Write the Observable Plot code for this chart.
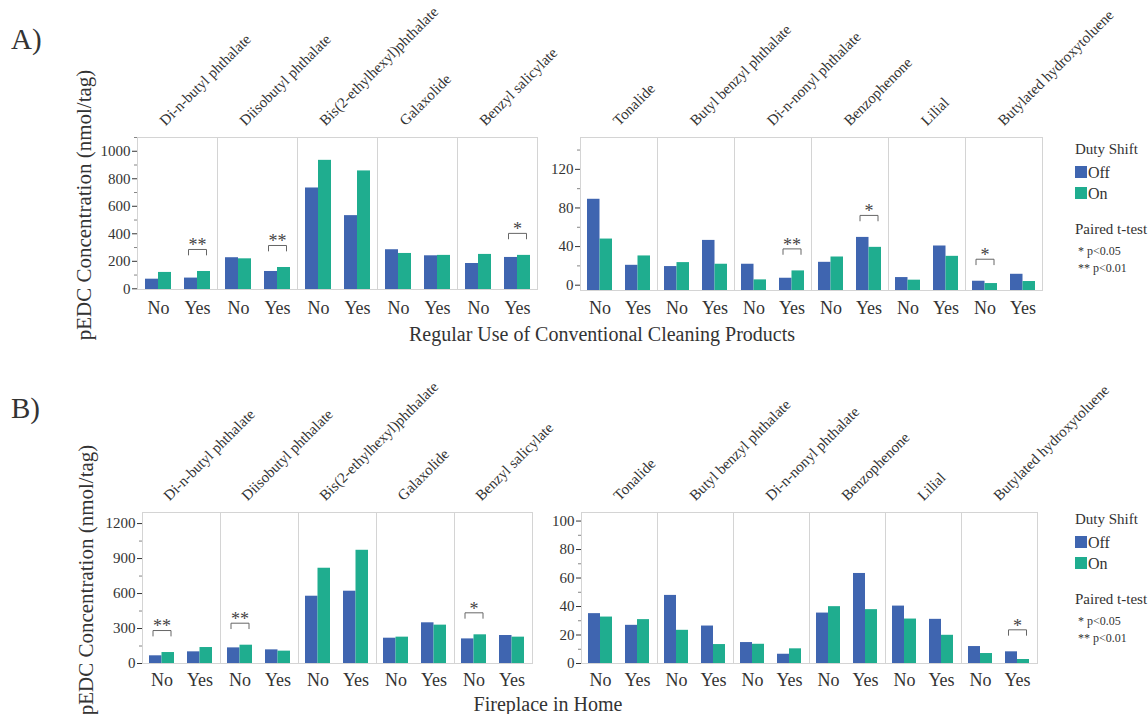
<!DOCTYPE html>
<html><head><meta charset="utf-8">
<script src="https://cdn.jsdelivr.net/npm/d3@7"></script>
<script src="https://cdn.jsdelivr.net/npm/@observablehq/plot@0.6"></script>
<style>
body{margin:0;background:#fff;}
#fig{position:relative;width:1148px;height:714px;overflow:hidden;font-family:"Liberation Serif","Times New Roman",serif;color:#333;background:#fff;}
.t{position:absolute;white-space:nowrap;line-height:1;}
.p{position:absolute;}
</style></head><body><div id="fig"></div>
<script>
// ---------- data ----------
const chemsLeft = ["Di-n-butyl phthalate","Diisobutyl phthalate","Bis(2-ethylhexyl)phthalate","Galaxolide","Benzyl salicylate"];
const chemsRight = ["Tonalide","Butyl benzyl phthalate","Di-n-nonyl phthalate","Benzophenone","Lilial","Butylated hydroxytoluene"];
const groups = ["No","Yes"];
const shifts = ["Off","On"];
const shiftColors = ["#3f65b0","#1fad8f"];

// A) Regular use of conventional cleaning products (per chemical: No, Yes)
const cleanLeftOff  = [70,78, 226,126, 733,532, 284,240, 184,228];
const cleanLeftOn   = [119,126, 218,155, 934,857, 257,243, 250,243];
const cleanRightOff = [89,20.6, 19.3,46.4, 21.7,7.2, 23.7,49.5, 7.9,40.6, 4.1,11.3];
const cleanRightOn  = [47.8,30.3, 23.4,21.7, 5.5,14.8, 29.2,39.2, 5.2,29.9, 1.7,3.8];
const cleanSigLeft  = [["Di-n-butyl phthalate","Yes","**"],["Diisobutyl phthalate","Yes","**"],["Benzyl salicylate","Yes","*"]];
const cleanSigRight = [["Di-n-nonyl phthalate","Yes","**"],["Benzophenone","Yes","*"],["Butylated hydroxytoluene","No","*"]];

// B) Fireplace in home (per chemical: No, Yes)
const fireLeftOff  = [66,100, 134,117, 577,620, 217,349, 211,240];
const fireLeftOn   = [94,137, 157,106, 817,971, 226,329, 246,226];
const fireRightOff = [35.0,26.8, 47.8,26.3, 14.7,6.5, 35.4,63.2, 40.3,31.0, 11.9,8.2];
const fireRightOn  = [32.6,30.8, 23.3,13.3, 13.5,10.3, 39.9,37.8, 31.2,19.8, 7.0,2.8];
const fireSigLeft  = [["Di-n-butyl phthalate","No","**"],["Diisobutyl phthalate","No","**"],["Benzyl salicylate","No","*"]];
const fireSigRight = [["Butylated hydroxytoluene","Yes","*"]];

// axis ticks
const ticksALeft = [0,200,400,600,800,1000];
const minorALeft = [100,300,500,700,900,1100];
const ticksARight = [0,40,80,120];
const minorARight = [20,60,100,140];
const ticksBLeft = [0,300,600,900,1200];
const minorBLeft = [150,450,750,1050];
const ticksBRight = [0,20,40,60,80,100];
const minorBRight = [10,30,50,70,90];

// ---------- drawing ----------
const fig = document.getElementById("fig");
const FONT = "'Liberation Serif','Times New Roman',serif";

// bracket symbol for significance marks
const bracket = {
  draw(ctx, size) {
    const r = Math.sqrt(size / Math.PI), h = r * 0.65;
    ctx.moveTo(-r, h); ctx.lineTo(-r, 0); ctx.lineTo(r, 0); ctx.lineTo(r, h);
  }
};

function panel(o) {
  const rows = o.chems.flatMap((c, i) => groups.flatMap((g, j) => shifts.map((s, k) => ({
    chem: c, group: g, shift: s, value: (k ? o.on : o.off)[i * 2 + j]
  }))));
  const sigRows = o.sig.map(([chem, group, label]) => {
    const i = o.chems.indexOf(chem), j = groups.indexOf(group);
    return {chem, group, label, top: Math.max(o.off[i * 2 + j], o.on[i * 2 + j])};
  });
  const common = {
    width: o.width, height: o.height,
    marginLeft: o.ml, marginRight: o.mr, marginTop: o.mt, marginBottom: o.mb,
    fx: {domain: o.chems, padding: 0, axis: null, label: null},
    x: {domain: groups, paddingInner: 0.34, paddingOuter: 0.18, label: null},
    y: {domain: o.yDomain, label: null},
    color: {domain: shifts, range: shiftColors},
    style: `background:transparent;overflow:visible;font-family:${FONT};color:#333;`
  };
  const probe = Plot.plot({...common, marks: [Plot.barY(rows, {fx: "chem", x: "group", y: "value"})]});
  const bw = probe.scale("x").bandwidth;
  const svg = Plot.plot({
    ...common,
    marks: [
      Plot.frame({stroke: "#d4d4d4"}),
      Plot.barY(rows.filter(d => d.shift === "Off"), {fx: "chem", x: "group", y1: o.yDomain[0], y2: "value", fill: "shift", insetRight: bw / 2}),
      Plot.barY(rows.filter(d => d.shift === "On"), {fx: "chem", x: "group", y1: o.yDomain[0], y2: "value", fill: "shift", insetLeft: bw / 2}),
      Plot.axisY(o.yTicks, {tickSize: 5, tickPadding: 2, fontSize: 15, label: null, tickFormat: d => String(d)}),
      Plot.axisY(o.yMinor, {tickSize: 3, tickFormat: () => "", label: null, strokeOpacity: 0.6}),
      Plot.axisX({tickSize: 0, tickPadding: o.xPad, fontSize: 18, label: null}),
      Plot.text(o.chems, {fx: d => d, text: d => d, frameAnchor: "top", rotate: -45, textAnchor: "start", lineAnchor: "bottom", dx: o.labelDx, dy: -11, fontSize: 15}),
      Plot.dot(sigRows, {fx: "chem", x: "group", y: "top", symbol: bracket, r: 9, dy: -22, stroke: "#666", fill: "none", strokeWidth: 1}),
      Plot.text(sigRows, {fx: "chem", x: "group", y: "top", text: "label", dy: -26, fontSize: 18, fill: "#444"})
    ]
  });
  const div = document.createElement("div");
  div.className = "p";
  div.style.left = o.left + "px"; div.style.top = o.top + "px";
  div.style.width = o.width + "px"; div.style.height = o.height + "px";
  div.appendChild(svg);
  fig.appendChild(div);
}

function text(str, x, baseline, size, extra = {}) {
  const d = document.createElement("div");
  d.className = "t";
  d.textContent = str;
  d.style.fontSize = size + "px";
  d.style.left = x + "px";
  d.style.top = (baseline - 0.8375 * size) + "px";
  Object.assign(d.style, extra);
  fig.appendChild(d);
  return d;
}

function swatch(color, x, y) {
  const d = document.createElement("div");
  d.className = "p";
  Object.assign(d.style, {left: x + "px", top: y + "px", width: "12px", height: "12px", background: color});
  fig.appendChild(d);
}

function legend(dy) {
  text("Duty Shift", 1075, 155 + dy, 15);
  shifts.forEach((s, i) => {
    swatch(shiftColors[i], 1075, 166 + dy + i * 21);
    text(s, 1088, 178 + dy + i * 21, 16);
  });
  text("Paired t-test", 1075, 235 + dy, 15);
  text("* p<0.05", 1078, 255 + dy, 12);
  text("** p<0.01", 1078, 272 + dy, 12);
}

function yLabel(cx, cy) {
  const d = text("pEDC Concentration (nmol/tag)", cx, cy, 21);
  d.style.top = cy + "px";
  d.style.left = cx + "px";
  d.style.transform = "translate(-50%,-50%) rotate(-90deg)";
}

// Panel A
text("A)", 11, 49, 29);
yLabel(84, 205);
panel({chems: chemsLeft, off: cleanLeftOff, on: cleanLeftOn, sig: cleanSigLeft,
  yDomain: [-5, 1100], yTicks: ticksALeft, yMinor: minorALeft, labelDx: -12,
  left: 0, top: 0, width: 560, height: 330, ml: 135, mr: 22, mt: 137, mb: 41, xPad: 12});
panel({chems: chemsRight, off: cleanRightOff, on: cleanRightOn, sig: cleanSigRight,
  yDomain: [-5.5, 153], yTicks: ticksARight, yMinor: minorARight, labelDx: 0,
  left: 530, top: 0, width: 618, height: 330, ml: 47, mr: 104, mt: 137, mb: 40, xPad: 11});
legend(0);
text("Regular Use of Conventional Cleaning Products", 602, 341, 20, {transform: "translateX(-50%)"});

// Panel B
text("B)", 11, 418, 29);
yLabel(86, 580);
panel({chems: chemsLeft, off: fireLeftOff, on: fireLeftOn, sig: fireSigLeft,
  yDomain: [0, 1295], yTicks: ticksBLeft, yMinor: minorBLeft, labelDx: -12,
  left: 0, top: 370, width: 560, height: 344, ml: 140, mr: 27, mt: 142, mb: 51, xPad: 10});
panel({chems: chemsRight, off: fireRightOff, on: fireRightOn, sig: fireSigRight,
  yDomain: [0, 106], yTicks: ticksBRight, yMinor: minorBRight, labelDx: 0,
  left: 530, top: 370, width: 618, height: 344, ml: 48, mr: 109, mt: 142, mb: 51, xPad: 10});
legend(370);
text("Fireplace in Home", 548, 711, 20, {transform: "translateX(-50%)"});
</script></body></html>
